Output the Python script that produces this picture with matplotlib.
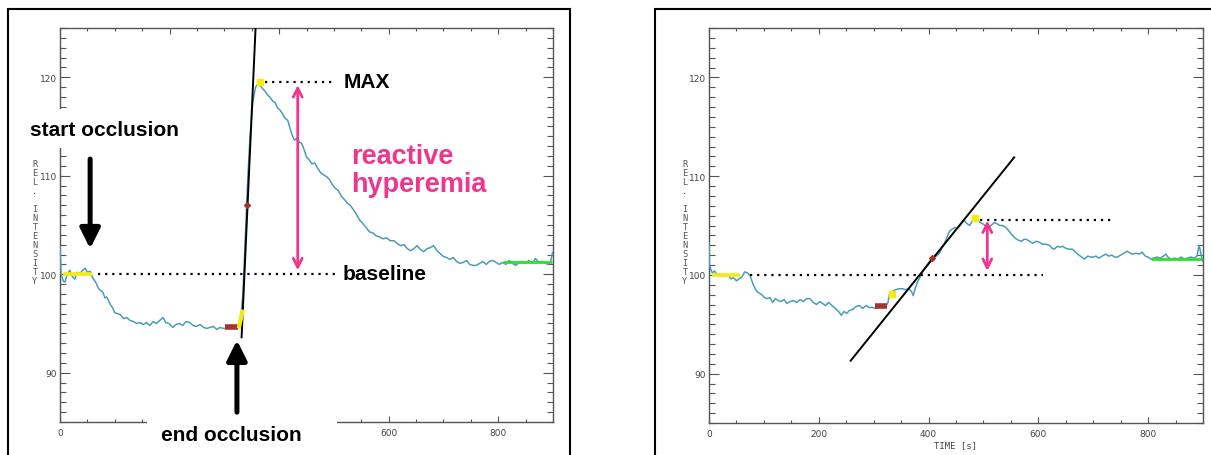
import numpy as np
import matplotlib
matplotlib.use('Agg')
import matplotlib.pyplot as plt
from matplotlib.patches import Rectangle
from matplotlib.ticker import MultipleLocator

# ---------------------------------------------------------------------------
# Data
# ---------------------------------------------------------------------------
left_t = [0, 2, 6, 9, 13, 18, 22, 27, 31, 37, 41, 46, 50, 55, 60, 65, 70, 73, 78, 82,
          85, 88, 92, 96, 100, 105, 110, 116, 122, 128, 134, 140, 146, 152, 158, 164,
          170, 176, 182, 188, 193, 199, 206, 212, 218, 224, 230, 237, 243, 249, 256,
          262, 268, 274, 280, 286, 292, 298, 304, 310, 316, 322, 327, 331, 334, 337,
          340, 343, 347, 352, 357, 361, 365, 369, 374, 379, 383, 388, 393, 397, 401,
          405, 410, 416, 420, 424, 428, 432, 437, 441, 446, 450, 455, 460, 465, 470,
          476, 481, 487, 492, 497, 503, 508, 514, 519, 525, 530, 536, 541, 547, 552,
          558, 565, 571, 577, 583, 590, 596, 603, 610, 616, 622, 628, 634, 640, 646,
          652, 658, 664, 670, 676, 682, 688, 694, 700, 706, 712, 718, 724, 730, 736,
          742, 748, 754, 760, 766, 772, 778, 784, 790, 796, 802, 808, 814, 820, 826,
          832, 838, 844, 850, 856, 862, 868, 874, 880, 886, 892, 896, 899]
left_v = [102.8, 100.0, 99.3, 99.2, 100.0, 100.4, 99.8, 99.5, 100.2, 100.1, 100.4, 100.6,
          100.2, 100.3, 99.6, 99.2, 98.6, 98.4, 98.2, 97.6, 97.7, 97.4, 96.9, 96.6, 96.1,
          96.0, 95.9, 95.5, 95.6, 95.3, 95.2, 95.0, 95.1, 94.9, 95.1, 94.8, 95.2, 95.0,
          95.3, 95.6, 95.1, 95.0, 94.6, 94.9, 95.0, 94.8, 95.2, 95.1, 94.8, 94.7, 94.9,
          94.6, 94.5, 94.6, 94.7, 94.4, 94.6, 94.5, 94.5, 94.6, 94.5, 94.7, 95.0, 96.2,
          98.0, 102.0, 106.0, 110.0, 114.0, 117.5, 119.0, 119.3, 119.2, 118.9, 118.6,
          118.2, 118.0, 117.6, 117.4, 116.9, 116.7, 116.4, 115.9, 115.6, 114.8, 114.1,
          113.6, 113.8, 113.4, 113.3, 112.6, 111.9, 111.6, 111.2, 111.3, 110.8, 110.3,
          110.1, 109.9, 109.6, 109.1, 108.7, 108.5, 107.9, 107.6, 107.2, 107.0, 106.5,
          106.1, 105.5, 105.2, 104.8, 104.3, 104.2, 103.9, 103.8, 103.6, 103.7, 103.4,
          103.4, 103.1, 102.9, 103.0, 102.6, 102.4, 102.6, 102.9, 102.5, 102.3, 102.6,
          102.7, 102.9, 102.4, 102.1, 101.8, 101.7, 101.5, 101.7, 101.3, 101.1, 101.2,
          101.4, 101.0, 100.9, 100.9, 101.1, 101.3, 101.0, 101.3, 101.4, 101.2, 101.0,
          101.2, 101.0, 101.4, 101.1, 100.9, 101.2, 101.3, 101.1, 101.4, 101.1, 101.6,
          101.2, 101.3, 101.1, 101.0, 101.3, 102.2]

right_t = [0, 1, 3, 6, 10, 15, 20, 25, 30, 35, 40, 45, 50, 55, 60, 65, 70, 75, 80, 85,
           90, 96, 101, 106, 111, 116, 121, 126, 131, 137, 142, 148, 154, 160, 166, 172,
           178, 184, 190, 196, 202, 207, 212, 218, 224, 230, 236, 241, 246, 251, 256,
           262, 268, 274, 280, 286, 292, 298, 304, 310, 316, 322, 326, 329, 334, 340,
           346, 352, 358, 364, 369, 372, 376, 380, 385, 390, 396, 402, 407, 414, 420,
           425, 429, 434, 438, 442, 448, 452, 456, 461, 465, 470, 475, 480, 484, 489,
           494, 498, 503, 507, 511, 516, 520, 524, 530, 535, 541, 547, 553, 558, 564,
           569, 574, 578, 584, 590, 596, 602, 608, 614, 620, 625, 629, 635, 640, 644,
           650, 656, 662, 668, 674, 679, 684, 690, 695, 699, 705, 710, 716, 723, 728,
           734, 739, 744, 750, 756, 762, 767, 772, 778, 784, 789, 795, 800, 805, 810,
           816, 822, 828, 832, 836, 842, 848, 854, 860, 866, 872, 878, 884, 889, 893,
           896, 899]
right_v = [103.2, 101.0, 100.6, 100.2, 100.4, 100.0, 100.1, 99.9, 99.9, 100.0, 99.6, 99.7,
           99.4, 99.6, 99.8, 100.3, 100.2, 99.9, 99.1, 98.5, 98.2, 98.0, 97.7, 97.6, 97.7,
           97.2, 97.6, 97.4, 97.3, 97.5, 97.1, 97.3, 97.4, 97.2, 97.5, 97.3, 97.6, 97.6,
           97.2, 97.0, 97.3, 97.1, 96.9, 97.2, 96.9, 96.6, 96.3, 95.9, 96.3, 96.1, 96.4,
           96.5, 96.8, 96.9, 96.6, 96.9, 96.7, 96.7, 96.6, 96.8, 96.7, 96.8, 97.2, 98.1,
           98.3, 98.5, 98.6, 98.6, 98.5, 98.6, 98.3, 97.9, 98.7, 99.3, 99.8, 100.4, 100.9,
           101.4, 101.7, 101.9, 102.2, 102.8, 103.2, 103.9, 104.4, 104.6, 104.8, 104.7,
           104.9, 105.3, 105.5, 105.2, 105.0, 105.5, 105.8, 105.5, 105.3, 105.2, 105.0,
           104.9, 104.9, 105.1, 105.3, 105.2, 105.0, 105.0, 104.8, 104.4, 104.0, 103.7,
           103.5, 103.4, 103.6, 103.6, 103.4, 103.2, 103.4, 103.3, 103.1, 103.1, 103.0,
           102.7, 102.6, 102.9, 102.8, 102.9, 102.7, 102.6, 102.6, 102.3, 102.0, 101.8,
           101.6, 101.9, 101.8, 101.8, 101.9, 101.7, 101.9, 102.1, 101.9, 102.0, 101.8,
           101.8, 102.0, 102.2, 102.4, 102.2, 102.1, 102.2, 102.1, 102.3, 101.9, 101.8,
           101.6, 101.7, 101.8, 101.7, 101.9, 102.1, 101.8, 101.6, 101.7, 101.6, 101.8,
           101.6, 101.7, 101.8, 101.7, 101.9, 103.0, 102.2, 101.4]

x_ticks = [0, 200, 400, 600, 800]
left_xlabels = ['0', '', '', '600', '800']     # 200/400 hidden behind the label box
right_xlabels = ['0', '200', '400', '600', '800']

# markers / fitted segments: (x0, x1, y) or (x, y)
left_base_seg  = (5, 58, 100.0)
left_brown_seg = (301, 325, 94.6)
left_green_seg = (808, 899, 101.2)
left_fit       = ([331.5, 357.5], [93.6, 125.6])
left_red_pt    = (341, 107.0)
left_max_pt    = (365, 119.5)
left_rise_seg  = ([327, 333], [94.7, 96.2])
left_dot_base  = (70, 503, 100.0)
left_dot_max   = (374, 503, 119.5)
left_span      = (434, 100.4, 119.2)

right_base_seg  = (5, 56, 100.0)
right_brown_seg = (302, 325, 96.8)
right_green_seg = (805, 899, 101.6)
right_fit       = ([258, 556], [91.3, 111.9])
right_red_pt    = (407, 101.7)
right_max_pt    = (484, 105.8)
right_low_pt    = (333, 98.1)
right_dot_base  = (75, 609, 100.0)
right_dot_max   = (493, 735, 105.6)
right_span      = (507, 100.4, 105.5)

# ---------------------------------------------------------------------------
# Style
# ---------------------------------------------------------------------------
W, H = 1211, 456
CURVE  = '#4b9db5'
YELLOW = '#f4ec10'
BROWN  = '#a3352e'
GREEN  = '#2ee02e'
PINK   = '#f0358f'
AXC    = '#555555'
BOLD   = dict(family='Liberation Sans', weight='bold')

fig = plt.figure(figsize=(W / 100, H / 100), dpi=100)
fig.patch.set_facecolor('white')


def fpos(x, y):
    return x / W, 1 - y / H


def make_axes(x0, y0, x1, y1, xlabels):
    ax = fig.add_axes([x0 / W, 1 - y1 / H, (x1 - x0) / W, (y1 - y0) / H])
    ax.set_xlim(0, 900)
    ax.set_ylim(85, 125)
    ax.set_xticks(x_ticks, xlabels)
    ax.xaxis.set_minor_locator(MultipleLocator(50))
    ax.yaxis.set_major_locator(MultipleLocator(10))
    ax.yaxis.set_minor_locator(MultipleLocator(1))
    for s in ax.spines.values():
        s.set_color(AXC)
        s.set_linewidth(1.0)
    ax.tick_params(axis='both', which='both', direction='in', colors=AXC,
                   top=True, right=True, labelsize=6.5, width=0.8)
    ax.tick_params(axis='x', which='major', length=4.5, pad=4)
    ax.tick_params(axis='x', which='minor', length=2.5)
    ax.tick_params(axis='y', which='major', length=7.5, pad=2)
    ax.tick_params(axis='y', which='minor', length=4)
    for lab in ax.get_xticklabels() + ax.get_yticklabels():
        lab.set_color('#444444')
    return ax


def draw_panel(ax, t, v, base, brown, green, fit, red, mx, dot_b, dot_m, span):
    ax.plot(t, v, color=CURVE, lw=1.1, zorder=3)
    ax.plot(base[:2], [base[2]] * 2, color=YELLOW, lw=2.6, zorder=4,
            solid_capstyle='butt')
    ax.plot(green[:2], [green[2]] * 2, color=GREEN, lw=2.0, zorder=4,
            solid_capstyle='butt')
    ax.plot(brown[:2], [brown[2]] * 2, color=BROWN, lw=4.0, zorder=4,
            solid_capstyle='butt')
    ax.plot(*fit, color='black', lw=1.4, zorder=4)
    ax.plot(*red, marker='D', ms=3, color=BROWN, zorder=5)
    ax.plot(*mx, marker='s', ms=5, color=YELLOW, zorder=5)
    ax.plot(dot_b[:2], [dot_b[2]] * 2, color='black', lw=1.6,
            ls=(0, (1, 2.2)), zorder=4)
    ax.plot(dot_m[:2], [dot_m[2]] * 2, color='black', lw=1.6,
            ls=(0, (1, 2.2)), zorder=4)
    ax.annotate('', xy=(span[0], span[2]), xytext=(span[0], span[1]),
                arrowprops=dict(arrowstyle='<->', color=PINK, lw=2.0,
                                mutation_scale=16, shrinkA=0, shrinkB=0),
                zorder=6, annotation_clip=False)


def stacked_label(x, y):
    fig.text(*fpos(x, y), '\n'.join('REL. INTENSITY'), ha='center', va='center',
             fontsize=6.2, color='#555555', linespacing=1.0,
             family='DejaVu Sans Mono')


# ---------------------------------------------------------------------------
# Left panel (annotated)
# ---------------------------------------------------------------------------
axL = make_axes(60, 29, 553, 423, left_xlabels)
draw_panel(axL, left_t, left_v, left_base_seg, left_brown_seg, left_green_seg,
           left_fit, left_red_pt, left_max_pt, left_dot_base, left_dot_max, left_span)
axL.plot(*left_rise_seg, color=YELLOW, lw=3, zorder=4)
stacked_label(35, 223)

# white boxes that hide parts of the axis behind the labels
for (x0, y0, x1, y1) in [(22, 110, 186, 149), (147, 402, 337, 470)]:
    axL.add_patch(Rectangle(fpos(x0, y1), (x1 - x0) / W, (y1 - y0) / H,
                            transform=fig.transFigure, facecolor='white',
                            edgecolor='none', clip_on=False, zorder=5))

axL.text(*fpos(30, 131), 'start occlusion', transform=fig.transFigure,
         ha='left', va='center', fontsize=15, zorder=7, **BOLD)
axL.text(*fpos(161, 436), 'end occlusion', transform=fig.transFigure,
         ha='left', va='center', fontsize=15, zorder=7, **BOLD)
axL.text(*fpos(344, 83), 'MAX', transform=fig.transFigure,
         ha='left', va='center', fontsize=15, zorder=7, **BOLD)
axL.text(*fpos(343, 275), 'baseline', transform=fig.transFigure,
         ha='left', va='center', fontsize=15, zorder=7, **BOLD)
axL.text(*fpos(351, 171), 'reactive\nhyperemia', transform=fig.transFigure,
         ha='left', va='center', fontsize=19.5, color=PINK, linespacing=1.1,
         zorder=7, **BOLD)

# black occlusion arrows
axL.annotate('', xy=(55, 102.6), xytext=(55, 111.7),
             arrowprops=dict(arrowstyle='-|>', color='black', lw=3.6,
                             mutation_scale=30, shrinkA=0, shrinkB=0),
             zorder=8, annotation_clip=False)
axL.annotate('', xy=(323, 93.3), xytext=(323, 86.0),
             arrowprops=dict(arrowstyle='-|>', color='black', lw=3.6,
                             mutation_scale=30, shrinkA=0, shrinkB=0),
             zorder=8, annotation_clip=False)

# ---------------------------------------------------------------------------
# Right panel
# ---------------------------------------------------------------------------
axR = make_axes(709, 29, 1203, 424, right_xlabels)
draw_panel(axR, right_t, right_v, right_base_seg, right_brown_seg, right_green_seg,
           right_fit, right_red_pt, right_max_pt, right_dot_base, right_dot_max,
           right_span)
axR.plot(*right_low_pt, marker='s', ms=5, color=YELLOW, zorder=5)
stacked_label(685, 223)
fig.text(*fpos(955, 446), 'TIME [s]', ha='center', va='center', fontsize=6.5,
         color='#444444', family='DejaVu Sans Mono')

# panel frames
fig.add_artist(Rectangle(fpos(8, 470), (570 - 8) / W, (470 - 10) / H,
                         transform=fig.transFigure, fill=False, lw=1.5,
                         edgecolor='black'))
fig.add_artist(Rectangle(fpos(655, 470), (1230 - 655) / W, (470 - 10) / H,
                         transform=fig.transFigure, fill=False, lw=1.5,
                         edgecolor='black'))

fig.savefig('out.png', dpi=100)
